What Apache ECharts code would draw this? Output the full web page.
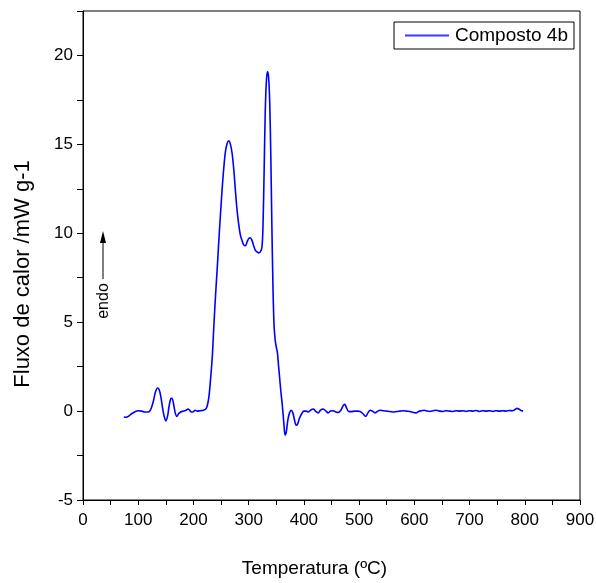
<!DOCTYPE html>
<html>
<head>
<meta charset="utf-8">
<script src="https://cdn.jsdelivr.net/npm/echarts@6/dist/echarts.min.js"></script>
<style>
html,body{margin:0;padding:0;background:#fff;}
#c{width:596px;height:583px;}
</style>
</head>
<body>
<div id="c"></div>
<script>
const temperature = [74,78,82,88,95,100,106,112,118,122,127,131,135,138,141,144,147,150,153,156,159,161,164,167,170,173,177,182,187,190,193,196,199,203,207,212,218,222,225,228,231,234,237,240,243,246,249,252,255,258,261,264,267,270,273,276,279,282,285,288,291,294,297,300,303,306,309,312,315,318,321,324,326,328,330,332,334,336,338,340,342,344,346,348,350,352,354,356,358,361,364,366,368,371,374,377,380,383,386,389,392,396,400,404,408,412,417,421,426,430,435,440,444,448,453,458,462,467,471,474,477,481,486,492,497,502,507,512,516,520,524,529,534,538,544,550,556,562,568,574,580,586,592,598,603,608,613,618,623,628,634,640,646,652,658,664,670,676,682,688,694,700,706,712,718,724,730,736,742,748,754,760,766,772,778,783,786,789,793,797];
const heatFlow = [-0.33,-0.35,-0.3,-0.15,-0.02,0.02,0.0,-0.05,-0.05,0.05,0.5,1.05,1.3,1.2,0.8,0.2,-0.3,-0.55,-0.3,0.3,0.7,0.72,0.4,-0.1,-0.3,-0.15,-0.05,0.0,0.05,0.12,0.05,-0.05,-0.05,0.05,0.0,0.02,0.05,0.1,0.3,0.8,1.8,3.0,4.8,6.5,8.0,9.6,11.1,12.5,13.7,14.6,15.05,15.2,15.0,14.5,13.6,12.4,11.3,10.5,9.9,9.6,9.35,9.3,9.5,9.7,9.75,9.6,9.3,9.05,8.95,8.9,8.95,9.2,10.5,13.5,16.8,18.5,19.1,18.8,17.5,14.5,10.5,7.0,4.8,4.0,3.6,3.3,2.6,1.9,1.2,0.3,-0.8,-1.35,-1.2,-0.5,-0.1,0.05,-0.1,-0.5,-0.8,-0.7,-0.4,-0.15,0.0,0.0,-0.05,0.05,0.12,0.0,-0.1,0.05,0.12,0.0,-0.1,0.0,0.02,-0.05,-0.08,0.05,0.3,0.38,0.2,-0.02,-0.03,0.0,0.0,-0.02,-0.15,-0.3,-0.1,0.05,0.0,-0.1,0.0,0.05,0.02,0.0,-0.02,-0.05,-0.02,0.0,0.02,0.0,-0.02,-0.08,-0.1,-0.02,0.02,0.05,0.0,-0.02,0.02,0.05,0.0,-0.02,0.02,0.0,-0.02,0.02,0.0,0.02,-0.02,0.02,0.0,0.03,-0.02,0.02,0.0,0.02,-0.02,0.02,0.0,0.02,0.0,0.03,0.02,0.1,0.15,0.12,0.03,0.0];
const seriesName = 'Composto 4b';
const xTitle = 'Temperatura (ºC)';
const yTitle = 'Fluxo de calor /mW g-1';
const annotationText = 'endo';

const font = "'Liberation Sans', Arial, sans-serif";

const chart = echarts.init(document.getElementById('c'), null, {renderer: 'canvas'});
const points = temperature.map((t, i) => [t, heatFlow[i]]);

chart.setOption({
  animation: false,
  backgroundColor: '#fff',
  grid: {
    left: 83, right: 16, top: 11, bottom: 83,
    show: true, borderColor: '#000', borderWidth: 1,
    containLabel: false, outerBoundsMode: 'none'
  },
  legend: {
    left: 394, top: 22,
    padding: [4, 6, 4, 11],
    itemGap: 0,
    itemWidth: 44, itemHeight: 2,
    borderColor: '#000', borderWidth: 1, borderRadius: 0,
    backgroundColor: '#fff',
    textStyle: {fontFamily: font, fontSize: 19, color: '#000', padding: [0, 0, 0, 1]},
    data: [{name: seriesName, icon: 'rect', itemStyle: {color: '#3a3aff'}}]
  },
  xAxis: {
    type: 'value', min: 0, max: 900, interval: 50,
    name: xTitle, nameLocation: 'middle', nameGap: 59,
    nameTextStyle: {fontFamily: font, fontSize: 19, color: '#000', padding: [0, 34, 0, 0]},
    axisLine: {show: true, onZero: false, lineStyle: {color: '#000', width: 1}},
    axisTick: {show: true, inside: false, length: 5, lineStyle: {color: '#000', width: 1}},
    axisLabel: {
      fontFamily: font, fontSize: 17, color: '#000', margin: 12,
      formatter: v => (v % 100 === 0 ? String(v) : '')
    },
    splitLine: {show: false}
  },
  yAxis: {
    type: 'value', min: -5, max: 22.5, interval: 2.5,
    name: yTitle, nameLocation: 'middle', nameGap: 49, nameRotate: 90,
    nameTextStyle: {fontFamily: font, fontSize: 22, color: '#000', padding: [0, 37, 0, 0]},
    axisLine: {show: true, onZero: false, lineStyle: {color: '#000', width: 1}},
    axisTick: {show: true, inside: false, length: 6, lineStyle: {color: '#000', width: 1}},
    axisLabel: {
      fontFamily: font, fontSize: 17, color: '#000', margin: 10,
      formatter: v => (v % 5 === 0 && v <= 20 ? String(v) : '')
    },
    splitLine: {show: false}
  },
  graphic: [
    {type: 'line', shape: {x1: 103, y1: 279, x2: 103, y2: 242}, style: {stroke: '#000', lineWidth: 1}},
    {type: 'polygon', shape: {points: [[103, 231], [100, 243], [106, 243]]}, style: {fill: '#000'}},
    {type: 'text', x: 104, y: 301, rotation: Math.PI / 2,
     style: {text: annotationText, font: "16px 'Liberation Sans', Arial, sans-serif", fill: '#000', align: 'center', verticalAlign: 'middle'}}
  ],
  series: [{
    name: seriesName, type: 'line', data: points,
    symbol: 'none', smooth: 0.35,
    lineStyle: {color: '#0000ff', width: 1.6},
    itemStyle: {color: '#3a3aff'}
  }]
});
</script>
</body>
</html>
